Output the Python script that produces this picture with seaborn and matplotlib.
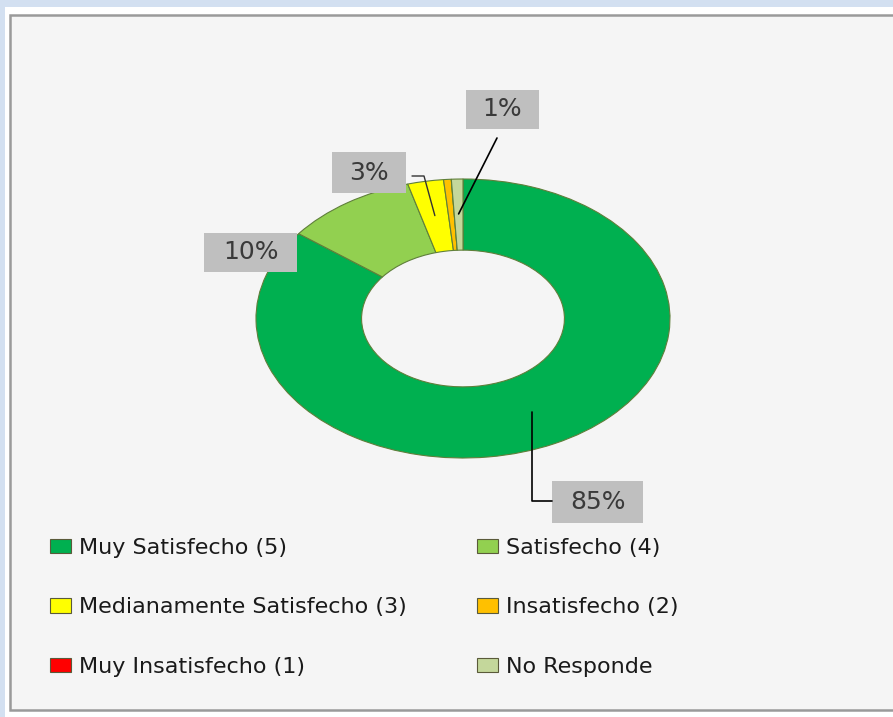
import numpy as np
import matplotlib
matplotlib.use("Agg")
import matplotlib.pyplot as plt
import seaborn as sns
from matplotlib.patches import Rectangle, Patch
from matplotlib.lines import Line2D

# ---- data ----
categories = ["Muy Satisfecho (5)", "Satisfecho (4)", "Medianamente Satisfecho (3)",
              "Insatisfecho (2)", "Muy Insatisfecho (1)", "No Responde"]
values = [85.4, 10.3, 2.8, 0.6, 0.0, 0.9]
colors = ["#00B050", "#92D050", "#FFFF00", "#FFC000", "#FF0000", "#C4D79B"]
label_text = ["85%", "10%", "3%", None, None, "1%"]

sns.set_theme(style="white")
plt.rcParams['font.family'] = ['DejaVu Sans']

W, H = 893, 717
fig = plt.figure(figsize=(W / 100, H / 100), dpi=100)
fig.patch.set_facecolor("#d3e0f1")

def fx(px):
    return px / W

def fy(py):
    return 1 - py / H

# frame: white border + grey-bordered light panel
fig.add_artist(Rectangle((fx(5), 0), 1, fy(7), transform=fig.transFigure,
                         facecolor="white", edgecolor="none", zorder=0))
fig.add_artist(Rectangle((fx(10), fy(710)), 1, fy(15) - fy(710), transform=fig.transFigure,
                         facecolor="#f5f5f5", edgecolor="#9a9a9a", linewidth=1.8, zorder=0))

# donut axes (image is stretched horizontally -> elliptical donut)
ax = fig.add_axes([fx(256), fy(458), fx(670) - fx(256), fy(179) - fy(458)])
wedges, _ = ax.pie(values, colors=colors, startangle=90, counterclock=False,
                   radius=1.0, wedgeprops=dict(width=0.51, edgecolor="#5f7f3a", linewidth=0.8))
ax.set_aspect("auto")
ax.set_xlim(-1, 1)
ax.set_ylim(-1, 1)
ax.axis("off")
ax.patch.set_visible(False)

# anchor points (data -> figure fraction)
total = sum(values)
cum = np.cumsum([0] + values)
to_fig = ax.transData + fig.transFigure.inverted()

def anchor(i, r=0.75):
    mid = (cum[i] + cum[i + 1]) / 2 / total
    ang = np.deg2rad(90 - 360 * mid)
    return to_fig.transform((r * np.cos(ang), r * np.sin(ang)))

boxes = {0: (552, 481, 643, 523), 1: (204, 233, 297, 272),
         2: (332, 152, 406, 193), 5: (466, 90, 539, 129)}
for i, (x0, y0, x1, y1) in boxes.items():
    fig.add_artist(Rectangle((fx(x0), fy(y1)), fx(x1) - fx(x0), fy(y0) - fy(y1),
                             transform=fig.transFigure, facecolor="#bfbfbf",
                             edgecolor="none", zorder=3))
    fig.text(fx((x0 + x1) / 2), fy((y0 + y1) / 2), label_text[i], ha="center", va="center",
             fontsize=18, color="#3a3a3a", zorder=4)

# leader lines
a0 = anchor(0)
fig.add_artist(Line2D([a0[0], a0[0], fx(552)], [a0[1], fy(501), fy(501)],
                      transform=fig.transFigure, color="black", lw=1.2, zorder=5))
a5 = anchor(5)
fig.add_artist(Line2D([a5[0], fx(497)], [a5[1], fy(138)],
                      transform=fig.transFigure, color="black", lw=1.2, zorder=5))
a2 = anchor(2)
fig.add_artist(Line2D([a2[0], fx(424), fx(412)], [a2[1], fy(176), fy(176)],
                      transform=fig.transFigure, color="#333333", lw=1.0, zorder=5))

# legend (row-wise order)
order = [0, 2, 4, 1, 3, 5]
handles = [Patch(facecolor=colors[k], edgecolor="#5a5a3a", linewidth=0.8) for k in order]
labels = [categories[k] for k in order]
fig.legend(handles, labels, ncol=2, loc="upper left", bbox_to_anchor=(fx(50), fy(538)),
           frameon=False, fontsize=16, handlelength=0.95, handleheight=0.6,
           handletextpad=0.35, labelspacing=1.77, columnspacing=3.15,
           borderpad=0, borderaxespad=0, labelcolor="#1a1a1a")

fig.savefig("out.png", dpi=100, facecolor=fig.get_facecolor())
